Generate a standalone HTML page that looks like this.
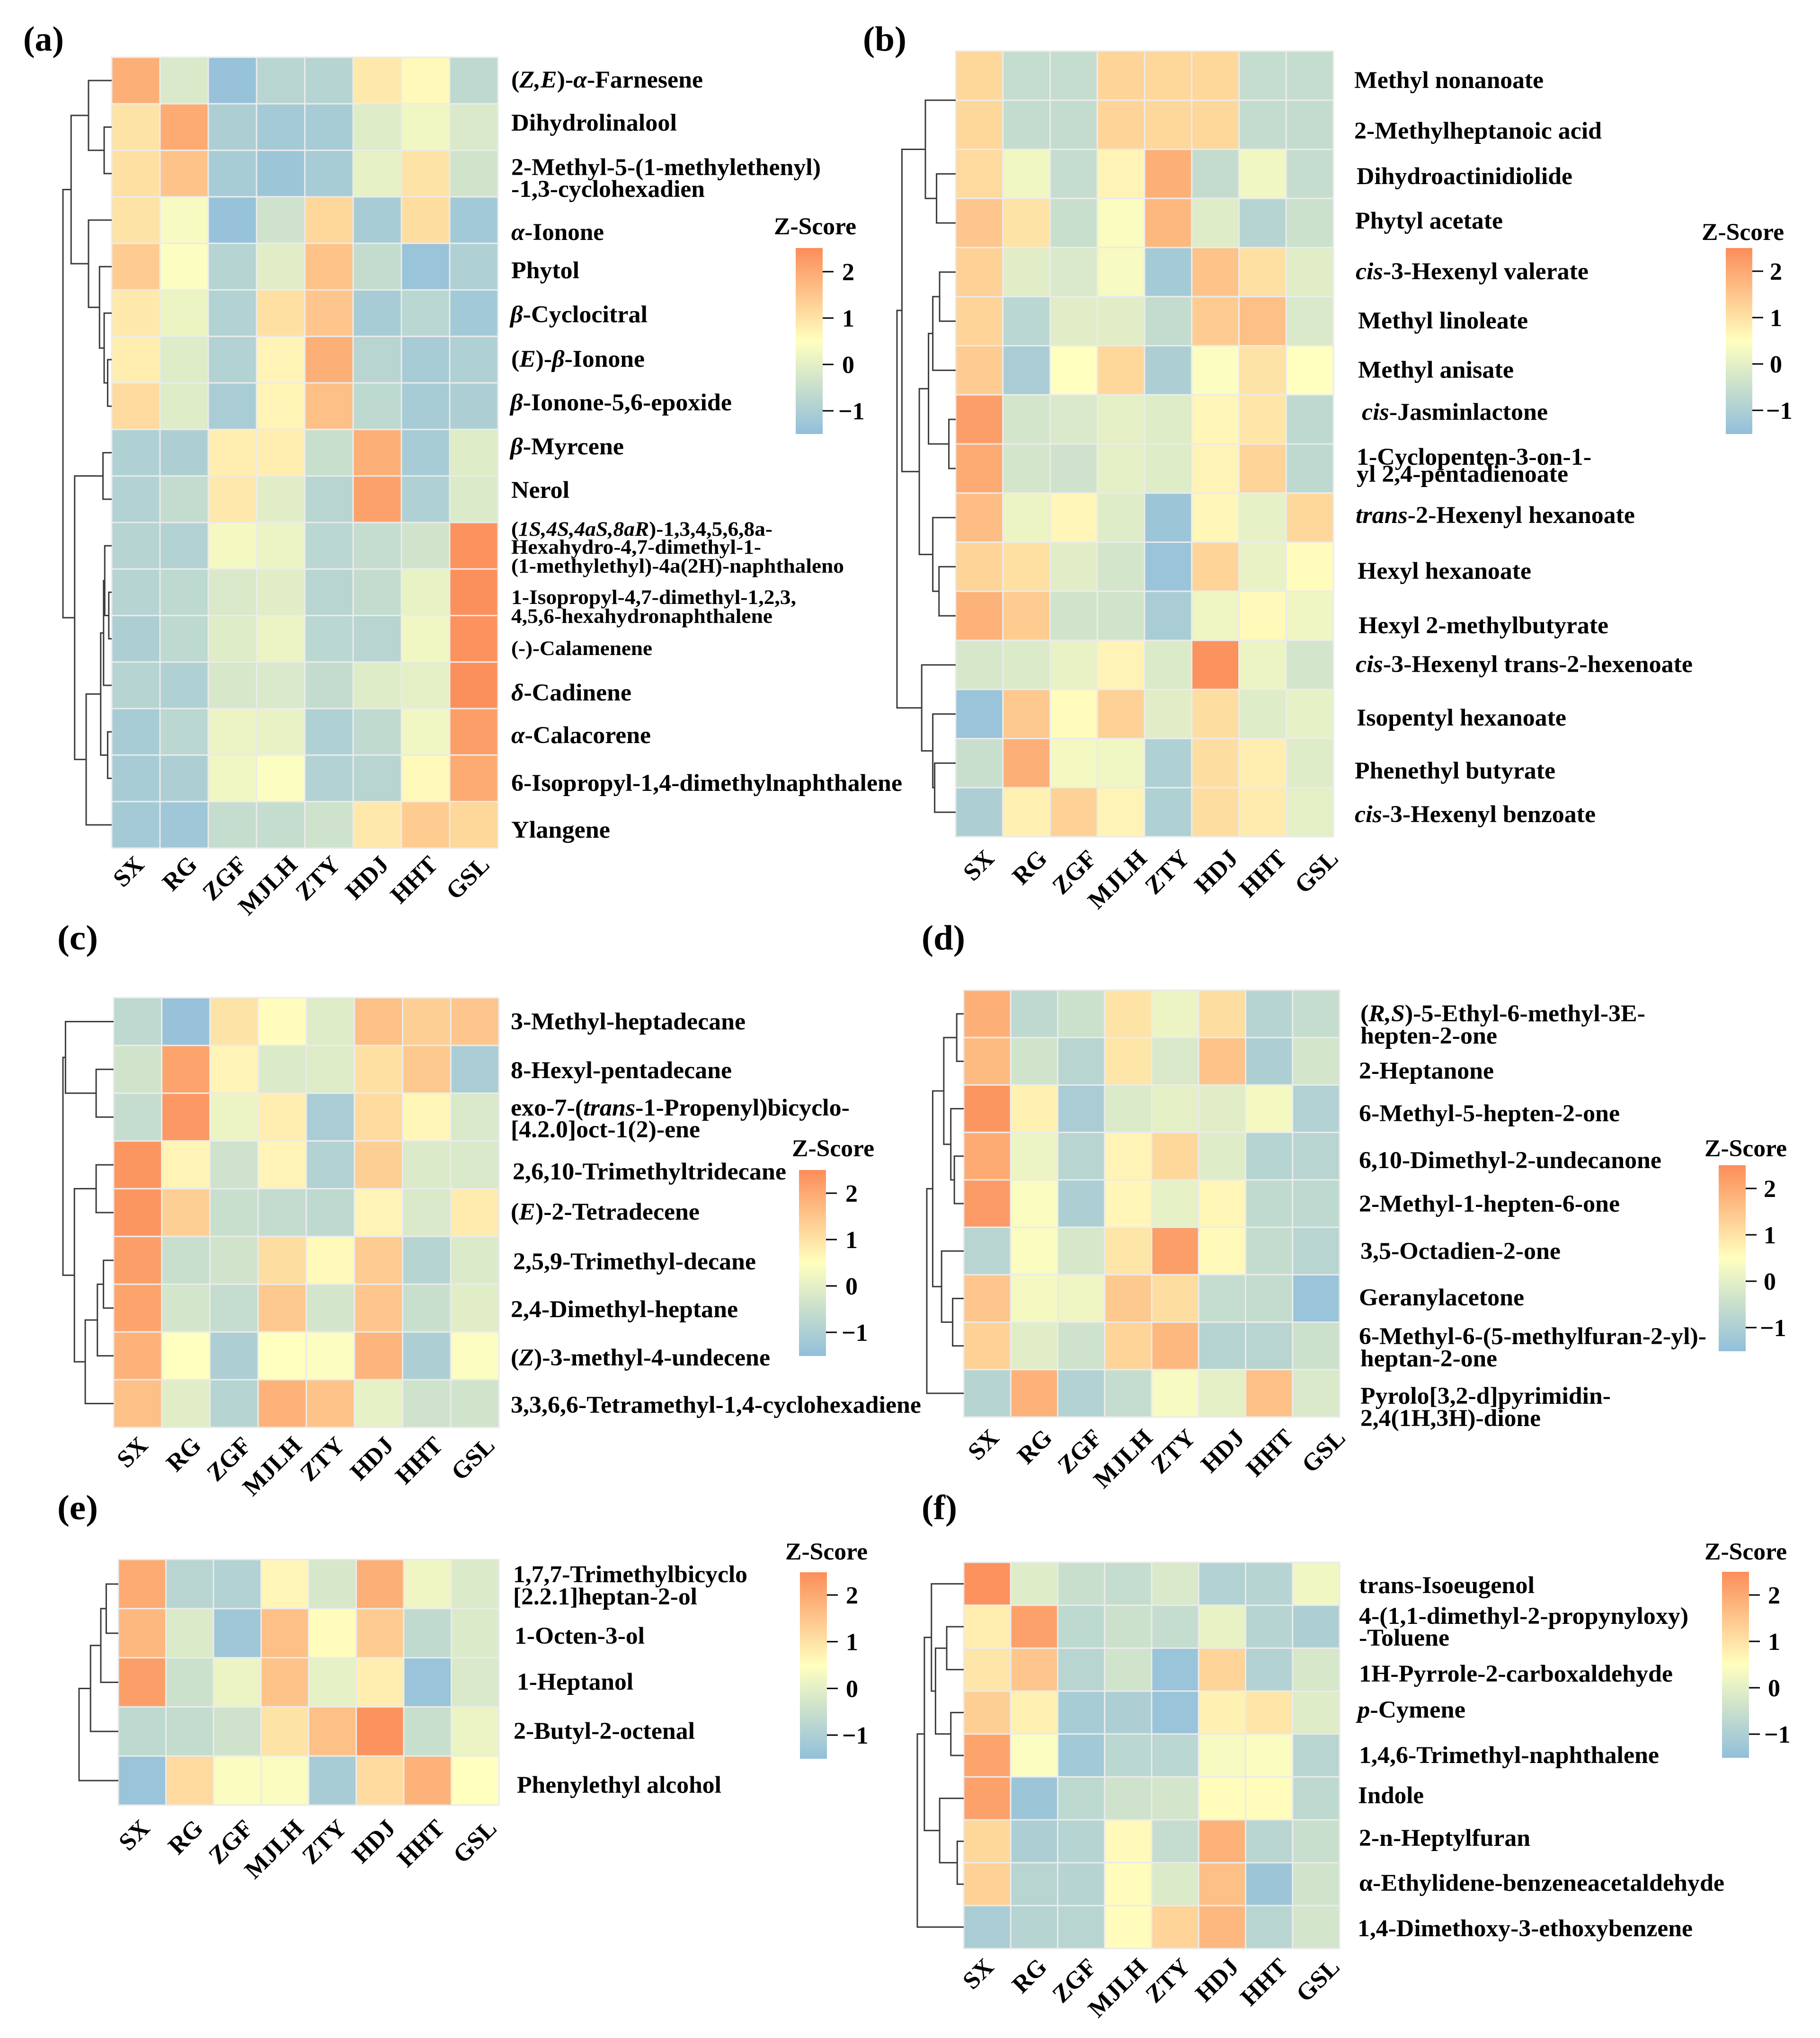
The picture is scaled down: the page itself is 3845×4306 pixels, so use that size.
<!DOCTYPE html>
<html lang="en">
<head>
<meta charset="utf-8">
<title>Z-Score heatmaps of volatile compounds</title>
<style>
html,body{margin:0;padding:0;background:#fff;}
svg{display:block;}
text{font-family:"Liberation Serif","Noto Serif CJK SC",serif;font-weight:bold;fill:#000;}
.r{font-size:51px;}
.s{font-size:43px;}
.p{font-size:74px;}
.i{font-style:italic;}
</style>
</head>
<body>
<svg id="figure" xmlns="http://www.w3.org/2000/svg" width="3845" height="4306" viewBox="0 0 3845 4306">
<defs>
<linearGradient id="zscoreRamp" x1="0" y1="0" x2="0" y2="1">
<stop offset="0" stop-color="#FC8D59"/>
<stop offset="0.5" stop-color="#FFFFBF"/>
<stop offset="1" stop-color="#91BFDB"/>
</linearGradient>
</defs>
<rect width="3845" height="4306" fill="#fff"/>

<text class="p" x="49" y="107" textLength="86" lengthAdjust="spacingAndGlyphs">(a)</text>
<text class="p" x="1823" y="107" textLength="92" lengthAdjust="spacingAndGlyphs">(b)</text>
<text class="p" x="121" y="2006" textLength="86" lengthAdjust="spacingAndGlyphs">(c)</text>
<text class="p" x="1947" y="2006" textLength="92" lengthAdjust="spacingAndGlyphs">(d)</text>
<text class="p" x="121" y="3210" textLength="86" lengthAdjust="spacingAndGlyphs">(e)</text>
<text class="p" x="1947" y="3210" textLength="75" lengthAdjust="spacingAndGlyphs">(f)</text>

<g id="labels-a">
<text class="r" x="1080" y="185" textLength="405" lengthAdjust="spacingAndGlyphs">(<tspan class="i">Z,E</tspan>)-<tspan class="i">α</tspan>-Farnesene</text>
<text class="r" x="1080" y="276" textLength="350" lengthAdjust="spacingAndGlyphs">Dihydrolinalool</text>
<text class="r" x="1080" y="370" textLength="654" lengthAdjust="spacingAndGlyphs">2-Methyl-5-(1-methylethenyl)</text>
<text class="r" x="1080" y="416" textLength="409" lengthAdjust="spacingAndGlyphs">-1,3-cyclohexadien</text>
<text class="r" x="1080" y="507" textLength="196" lengthAdjust="spacingAndGlyphs"><tspan class="i">α</tspan>-Ionone</text>
<text class="r" x="1080" y="588" textLength="144" lengthAdjust="spacingAndGlyphs">Phytol</text>
<text class="r" x="1078" y="681" textLength="290" lengthAdjust="spacingAndGlyphs"><tspan class="i">β</tspan>-Cyclocitral</text>
<text class="r" x="1080" y="775" textLength="282" lengthAdjust="spacingAndGlyphs">(<tspan class="i">E</tspan>)-<tspan class="i">β</tspan>-Ionone</text>
<text class="r" x="1078" y="867" textLength="468" lengthAdjust="spacingAndGlyphs"><tspan class="i">β</tspan>-Ionone-5,6-epoxide</text>
<text class="r" x="1078" y="960" textLength="240" lengthAdjust="spacingAndGlyphs"><tspan class="i">β</tspan>-Myrcene</text>
<text class="r" x="1080" y="1052" textLength="123" lengthAdjust="spacingAndGlyphs">Nerol</text>
<text class="s" x="1080" y="1132" textLength="552" lengthAdjust="spacingAndGlyphs">(<tspan class="i">1S,4S,4aS,8aR</tspan>)-1,3,4,5,6,8a-</text>
<text class="s" x="1080" y="1170" textLength="528" lengthAdjust="spacingAndGlyphs">Hexahydro-4,7-dimethyl-1-</text>
<text class="s" x="1080" y="1210" textLength="703" lengthAdjust="spacingAndGlyphs">(1-methylethyl)-4a(2H)-naphthaleno</text>
<text class="s" x="1080" y="1276" textLength="602" lengthAdjust="spacingAndGlyphs">1-Isopropyl-4,7-dimethyl-1,2,3,</text>
<text class="s" x="1080" y="1316" textLength="552" lengthAdjust="spacingAndGlyphs">4,5,6-hexahydronaphthalene</text>
<text class="s" x="1080" y="1384" textLength="298" lengthAdjust="spacingAndGlyphs">(-)-Calamenene</text>
<text class="r" x="1080" y="1480" textLength="254" lengthAdjust="spacingAndGlyphs"><tspan class="i">δ</tspan>-Cadinene</text>
<text class="r" x="1080" y="1570" textLength="295" lengthAdjust="spacingAndGlyphs"><tspan class="i">α</tspan>-Calacorene</text>
<text class="r" x="1080" y="1671" textLength="826" lengthAdjust="spacingAndGlyphs">6-Isopropyl-1,4-dimethylnaphthalene</text>
<text class="r" x="1080" y="1770" textLength="209" lengthAdjust="spacingAndGlyphs">Ylangene</text>
</g>

<g id="labels-b">
<text class="r" x="2861" y="186" textLength="400" lengthAdjust="spacingAndGlyphs">Methyl nonanoate</text>
<text class="r" x="2861" y="293" textLength="523" lengthAdjust="spacingAndGlyphs">2-Methylheptanoic acid</text>
<text class="r" x="2866" y="389" textLength="456" lengthAdjust="spacingAndGlyphs">Dihydroactinidiolide</text>
<text class="r" x="2863" y="483" textLength="312" lengthAdjust="spacingAndGlyphs">Phytyl acetate</text>
<text class="r" x="2864" y="590" textLength="492" lengthAdjust="spacingAndGlyphs"><tspan class="i">cis</tspan>-3-Hexenyl valerate</text>
<text class="r" x="2869" y="694" textLength="359" lengthAdjust="spacingAndGlyphs">Methyl linoleate</text>
<text class="r" x="2869" y="798" textLength="329" lengthAdjust="spacingAndGlyphs">Methyl anisate</text>
<text class="r" x="2877" y="887" textLength="393" lengthAdjust="spacingAndGlyphs"><tspan class="i">cis</tspan>-Jasminlactone</text>
<text class="r" x="2866" y="982" textLength="496" lengthAdjust="spacingAndGlyphs">1-Cyclopenten-3-on-1-</text>
<text class="r" x="2866" y="1018" textLength="447" lengthAdjust="spacingAndGlyphs">yl 2,4-pentadienoate</text>
<text class="r" x="2864" y="1105" textLength="590" lengthAdjust="spacingAndGlyphs"><tspan class="i">trans</tspan>-2-Hexenyl hexanoate</text>
<text class="r" x="2868" y="1223" textLength="367" lengthAdjust="spacingAndGlyphs">Hexyl hexanoate</text>
<text class="r" x="2870" y="1338" textLength="528" lengthAdjust="spacingAndGlyphs">Hexyl 2-methylbutyrate</text>
<text class="r" x="2864" y="1420" textLength="712" lengthAdjust="spacingAndGlyphs"><tspan class="i">cis</tspan>-3-Hexenyl trans-2-hexenoate</text>
<text class="r" x="2866" y="1533" textLength="443" lengthAdjust="spacingAndGlyphs">Isopentyl hexanoate</text>
<text class="r" x="2862" y="1645" textLength="424" lengthAdjust="spacingAndGlyphs">Phenethyl butyrate</text>
<text class="r" x="2862" y="1737" textLength="509" lengthAdjust="spacingAndGlyphs"><tspan class="i">cis</tspan>-3-Hexenyl benzoate</text>
</g>

<g id="labels-c">
<text class="r" x="1079" y="2175" textLength="496" lengthAdjust="spacingAndGlyphs">3-Methyl-heptadecane</text>
<text class="r" x="1079" y="2278" textLength="467" lengthAdjust="spacingAndGlyphs">8-Hexyl-pentadecane</text>
<text class="r" x="1079" y="2357" textLength="716" lengthAdjust="spacingAndGlyphs">exo-7-(<tspan class="i">trans</tspan>-1-Propenyl)bicyclo-</text>
<text class="r" x="1079" y="2403" textLength="400" lengthAdjust="spacingAndGlyphs">[4.2.0]oct-1(2)-ene</text>
<text class="r" x="1083" y="2492" textLength="578" lengthAdjust="spacingAndGlyphs">2,6,10-Trimethyltridecane</text>
<text class="r" x="1079" y="2577" textLength="399" lengthAdjust="spacingAndGlyphs">(<tspan class="i">E</tspan>)-2-Tetradecene</text>
<text class="r" x="1084" y="2682" textLength="513" lengthAdjust="spacingAndGlyphs">2,5,9-Trimethyl-decane</text>
<text class="r" x="1079" y="2783" textLength="480" lengthAdjust="spacingAndGlyphs">2,4-Dimethyl-heptane</text>
<text class="r" x="1079" y="2885" textLength="548" lengthAdjust="spacingAndGlyphs">(<tspan class="i">Z</tspan>)-3-methyl-4-undecene</text>
<text class="r" x="1079" y="2985" textLength="867" lengthAdjust="spacingAndGlyphs">3,3,6,6-Tetramethyl-1,4-cyclohexadiene</text>
</g>

<g id="labels-d">
<text class="r" x="2874" y="2158" textLength="602" lengthAdjust="spacingAndGlyphs">(<tspan class="i">R,S</tspan>)-5-Ethyl-6-methyl-3E-</text>
<text class="r" x="2874" y="2205" textLength="289" lengthAdjust="spacingAndGlyphs">hepten-2-one</text>
<text class="r" x="2871" y="2279" textLength="285" lengthAdjust="spacingAndGlyphs">2-Heptanone</text>
<text class="r" x="2871" y="2369" textLength="551" lengthAdjust="spacingAndGlyphs">6-Methyl-5-hepten-2-one</text>
<text class="r" x="2871" y="2468" textLength="639" lengthAdjust="spacingAndGlyphs">6,10-Dimethyl-2-undecanone</text>
<text class="r" x="2871" y="2560" textLength="551" lengthAdjust="spacingAndGlyphs">2-Methyl-1-hepten-6-one</text>
<text class="r" x="2874" y="2660" textLength="423" lengthAdjust="spacingAndGlyphs">3,5-Octadien-2-one</text>
<text class="r" x="2871" y="2758" textLength="349" lengthAdjust="spacingAndGlyphs">Geranylacetone</text>
<text class="r" x="2871" y="2840" textLength="734" lengthAdjust="spacingAndGlyphs">6-Methyl-6-(5-methylfuran-2-yl)-</text>
<text class="r" x="2874" y="2887" textLength="289" lengthAdjust="spacingAndGlyphs">heptan-2-one</text>
<text class="r" x="2874" y="2966" textLength="529" lengthAdjust="spacingAndGlyphs">Pyrolo[3,2-d]pyrimidin-</text>
<text class="r" x="2874" y="3013" textLength="381" lengthAdjust="spacingAndGlyphs">2,4(1H,3H)-dione</text>
</g>

<g id="labels-e">
<text class="r" x="1084" y="3343" textLength="495" lengthAdjust="spacingAndGlyphs">1,7,7-Trimethylbicyclo</text>
<text class="r" x="1084" y="3390" textLength="389" lengthAdjust="spacingAndGlyphs">[2.2.1]heptan-2-ol</text>
<text class="r" x="1087" y="3473" textLength="275" lengthAdjust="spacingAndGlyphs">1-Octen-3-ol</text>
<text class="r" x="1092" y="3570" textLength="246" lengthAdjust="spacingAndGlyphs">1-Heptanol</text>
<text class="r" x="1085" y="3674" textLength="383" lengthAdjust="spacingAndGlyphs">2-Butyl-2-octenal</text>
<text class="r" x="1092" y="3788" textLength="432" lengthAdjust="spacingAndGlyphs">Phenylethyl alcohol</text>
</g>

<g id="labels-f">
<text class="r" x="2871" y="3366" textLength="371" lengthAdjust="spacingAndGlyphs">trans-Isoeugenol</text>
<text class="r" x="2871" y="3431" textLength="696" lengthAdjust="spacingAndGlyphs">4-(1,1-dimethyl-2-propynyloxy)</text>
<text class="r" x="2871" y="3477" textLength="191" lengthAdjust="spacingAndGlyphs">-Toluene</text>
<text class="r" x="2871" y="3553" textLength="663" lengthAdjust="spacingAndGlyphs">1H-Pyrrole-2-carboxaldehyde</text>
<text class="r" x="2868" y="3629" textLength="228" lengthAdjust="spacingAndGlyphs"><tspan class="i">p</tspan>-Cymene</text>
<text class="r" x="2871" y="3725" textLength="634" lengthAdjust="spacingAndGlyphs">1,4,6-Trimethyl-naphthalene</text>
<text class="r" x="2869" y="3810" textLength="139" lengthAdjust="spacingAndGlyphs">Indole</text>
<text class="r" x="2871" y="3900" textLength="362" lengthAdjust="spacingAndGlyphs">2-n-Heptylfuran</text>
<text class="r" x="2871" y="3995" textLength="772" lengthAdjust="spacingAndGlyphs">α-Ethylidene-benzeneacetaldehyde</text>
<text class="r" x="2868" y="4091" textLength="708" lengthAdjust="spacingAndGlyphs">1,4-Dimethoxy-3-ethoxybenzene</text>
</g>
</svg>

<script>
// ---- data ----
const sampleNames = ["SX","RG","ZGF","MJLH","ZTY","HDJ","HHT","GSL"];
const colorTicks = [2,1,0,-1];
const colorDomain = [-1.5,2.5];

const valuesA = [
[1.9,-0.2,-1.4,-0.8,-0.85,0.9,0.6,-0.7],
[1.0,2.0,-1.0,-1.15,-1.1,-0.1,0.25,-0.2],
[1.05,1.55,-1.1,-1.3,-1.1,0.05,1.0,-0.35],
[1.0,0.35,-1.4,-0.4,1.2,-1.1,1.1,-1.2],
[1.4,0.45,-0.85,-0.05,1.55,-0.6,-1.35,-0.95],
[0.9,0.15,-0.9,1.05,1.5,-1.1,-0.75,-1.2],
[0.8,-0.1,-0.9,0.7,1.9,-0.8,-1.1,-0.95],
[1.15,-0.1,-1.05,0.7,1.6,-0.7,-1.1,-1.0],
[-0.95,-1.0,0.8,0.8,-0.5,1.9,-1.1,-0.1],
[-0.9,-0.6,0.9,-0.05,-0.8,2.15,-0.95,-0.15],
[-0.85,-0.9,0.3,0.15,-0.75,-0.55,-0.35,2.4],
[-0.85,-0.7,-0.2,-0.05,-0.8,-0.6,0.1,2.45],
[-1.0,-0.7,-0.1,0.15,-0.75,-0.8,0.25,2.4],
[-0.85,-0.95,-0.25,-0.2,-0.6,-0.1,0.0,2.45],
[-1.1,-0.75,0.15,0.1,-0.95,-0.65,0.25,2.2],
[-1.1,-1.0,0.25,0.45,-0.9,-0.8,0.6,2.0],
[-1.15,-1.25,-0.55,-0.55,-0.4,0.9,1.4,1.2]
];
const valuesB = [
[1.2,-0.55,-0.55,1.25,1.2,1.2,-0.55,-0.55],
[1.2,-0.6,-0.6,1.25,1.2,1.2,-0.6,-0.6],
[1.15,0.25,-0.55,0.7,1.9,-0.6,0.25,-0.55],
[1.5,1.0,-0.5,0.4,1.75,-0.1,-0.85,-0.45],
[1.3,-0.05,-0.2,0.35,-1.15,1.55,1.05,-0.05],
[1.25,-0.75,-0.05,-0.05,-0.6,1.4,1.6,-0.2],
[1.4,-1.05,0.5,1.2,-1.0,0.45,1.0,0.5],
[2.2,-0.3,-0.2,0,-0.1,0.65,0.95,-0.7],
[2.0,-0.3,-0.4,0,-0.1,0.7,1.25,-0.7],
[1.65,0.15,0.65,-0.1,-1.3,0.65,0.05,1.2],
[1.25,1.05,-0.05,-0.3,-1.35,1.25,0.1,0.55],
[1.85,1.4,-0.35,-0.35,-1.05,0.2,0.6,0.2],
[-0.25,-0.15,0.1,0.7,-0.15,2.4,0.15,-0.3],
[-1.35,1.45,0.55,1.3,-0.05,1.1,-0.1,0.05],
[-0.5,1.9,0.3,0.25,-0.95,1.1,0.8,-0.1],
[-1.0,0.75,1.3,0.7,-0.95,1.1,0.85,0.0]
];
const valuesC = [
[-0.7,-1.4,1.0,0.55,-0.1,1.6,1.35,1.5],
[-0.35,2.1,0.7,-0.15,-0.1,1.05,1.45,-1.05],
[-0.55,2.3,0.15,0.8,-1.05,1.15,0.65,-0.2],
[2.35,0.7,-0.4,0.7,-0.9,1.35,-0.15,-0.2],
[2.35,1.35,-0.5,-0.6,-0.7,0.7,-0.2,0.85],
[2.2,-0.5,-0.35,1.1,0.6,1.4,-0.85,-0.15],
[2.1,-0.3,-0.55,1.45,-0.3,1.5,-0.5,-0.05],
[1.85,0.5,-1.0,0.5,0.45,1.8,-1.0,0.45],
[1.6,-0.05,-0.85,1.85,1.55,0.05,-0.4,-0.35]
];
const valuesD = [
[1.9,-0.7,-0.45,1.0,0.15,1.1,-0.85,-0.55],
[1.7,-0.35,-0.8,0.95,-0.2,1.55,-1.0,-0.3],
[2.35,0.75,-1.05,-0.15,0,-0.05,0.3,-0.9],
[2.0,0.15,-0.8,0.7,1.2,-0.1,-0.85,-0.8],
[2.25,0.4,-1.0,0.65,0.05,0.65,-0.65,-0.7],
[-0.8,0.4,-0.25,0.95,2.2,0.6,-0.6,-0.8],
[1.5,0.3,0.2,1.45,1.1,-0.55,-0.6,-1.35],
[1.3,-0.05,-0.4,1.25,1.75,-0.85,-0.8,-0.45],
[-0.85,1.85,-0.9,-0.55,0.35,0,1.6,-0.2]
];
const valuesE = [
[2.0,-0.8,-0.9,0.65,-0.25,1.9,0.2,-0.15],
[1.75,-0.15,-1.25,1.6,0.55,1.4,-0.65,-0.15],
[2.2,-0.45,0.15,1.55,0.05,0.8,-1.35,-0.2],
[-0.7,-0.6,-0.4,1.0,1.6,2.4,-0.5,0.15],
[-1.35,1.15,0.4,0.4,-1.1,1.15,1.85,0.5]
];
const valuesF = [
[2.4,-0.1,-0.5,-0.55,-0.2,-0.9,-0.85,0.25],
[0.8,2.15,-0.7,-0.45,-0.55,0.1,-0.85,-1.0],
[0.95,1.5,-0.8,-0.35,-1.35,1.25,-0.9,-0.25],
[1.35,0.75,-1.1,-1.0,-1.35,0.75,0.95,-0.1],
[2.1,0.45,-1.2,-0.75,-0.75,0.35,0.4,-0.8],
[2.15,-1.3,-0.7,-0.4,-0.3,0.55,0.55,-0.7],
[1.2,-1.0,-0.85,0.6,-0.55,1.85,-0.8,-0.5],
[1.3,-0.8,-0.85,0.55,-0.15,1.6,-1.3,-0.35],
[-1.05,-0.85,-0.8,0.55,1.25,1.75,-0.8,-0.3]
];

// Dendrogram merges, hclust convention: negative = row (1-based), positive = earlier merge; third = merge height (root = 100).
const mergesA = [[-2,-3,15.5],[-1,1,47.6],[-7,-8,8.3],[-6,3,15.5],[-5,4,25],[-4,5,47.6],[2,6,83.3],[-9,-10,17.9],[-12,-13,6],[-11,9,14.3],[10,-14,16.7],[-15,-16,8.3],[11,12,22.6],[13,-17,52.4],[8,14,76],[7,15,100]];
const mergesB = [[-1,-2,0],[-3,-4,32.6],[1,2,51.6],[-5,-6,27.4],[4,-7,39],[-8,-9,11.6],[5,6,46.3],[-11,-12,28.4],[-10,8,39],[7,9,62],[3,10,91.6],[-15,-16,35.8],[-14,12,39],[-13,13,57.9],[11,14,100]];
const mergesC = [[-2,-3,34.5],[-1,1,95],[-4,-5,34.5],[-6,-7,20],[4,-8,32],[5,-9,56],[3,6,77.4],[2,7,100]];
const mergesD = [[-1,-2,19],[-4,-5,25.4],[-3,2,35],[1,3,54],[-7,-8,30],[-6,5,60],[4,6,84],[7,-9,100]];
const mergesE = [[-1,-2,30.8],[1,-3,44.6],[2,-4,70.8],[3,-5,100]];
const mergesF = [[-2,-3,36.7],[-4,-5,27.8],[1,2,60.8],[-1,3,69.6],[-7,-8,14],[-6,5,51.9],[4,6,84.8],[7,-9,100]];

// ---- layout (not data) ----
const columnLabelNudge = {0:0,1:8,2:9,3:11,4:-3,5:-4,6:-5,7:0};
const panels = [
 {id:"a",values:valuesA,merges:mergesA,left:236,right:1052,top:121,bottom:1792,treeW:103,
  barL:1681,barR:1738,barT:524,barB:917,t2:574,tN:868,labX:1779,titleX:1635,titleY:495,tickA:307,tickB:1037,tickY:1830},
 {id:"b",values:valuesB,merges:mergesB,left:2019,right:2817,top:108,bottom:1768,treeW:124,
  barL:3646,barR:3702,barT:524,barB:917,t2:573,tN:867,labX:3739,titleX:3595,titleY:507,tickA:2103,tickB:2830,tickY:1817},
 {id:"c",values:valuesC,merges:mergesC,left:240,right:1054,top:2108,bottom:3016,treeW:107,
  barL:1688,barR:1745,barT:2472,barB:2865,t2:2521,tN:2815,labX:1786,titleX:1673,titleY:2443,tickA:315,tickB:1048,tickY:3057},
 {id:"d",values:valuesD,merges:mergesD,left:2036,right:2830,top:2092,bottom:2994,treeW:78,
  barL:3631,barR:3688,barT:2462,barB:2855,t2:2511,tN:2805,labX:3726,titleX:3601,titleY:2443,tickA:2113,tickB:2845,tickY:3041},
 {id:"e",values:valuesE,merges:mergesE,left:250,right:1054,top:3295,bottom:3814,treeW:83,
  barL:1690,barR:1747,barT:3322,barB:3716,t2:3370,tN:3666,labX:1787,titleX:1659,titleY:3295,tickA:319,tickB:1052,tickY:3866},
 {id:"f",values:valuesF,merges:mergesF,left:2036,right:2830,top:3301,bottom:4117,treeW:98,
  barL:3638,barR:3695,barT:3321,barB:3714,t2:3370,tN:3664,labX:3735,titleX:3601,titleY:3295,tickA:2102,tickB:2833,tickY:4159}
];

const SVG_NS = "http://www.w3.org/2000/svg";
const figure = document.getElementById("figure");

function mix(a,b,t){return Math.round(a+(b-a)*t);}
function colorFor(v){
  const t=Math.max(0,Math.min(1,(v-colorDomain[0])/(colorDomain[1]-colorDomain[0])));
  const blue=[145,191,219],yellow=[255,255,191],orange=[252,141,89];
  const from=t<0.5?blue:yellow,to=t<0.5?yellow:orange,u=t<0.5?t*2:(t-0.5)*2;
  return "rgb("+mix(from[0],to[0],u)+","+mix(from[1],to[1],u)+","+mix(from[2],to[2],u)+")";
}

function drawHeatmap(p,group){
  const rows=p.values.length,cols=sampleNames.length;
  const cw=(p.right-p.left)/cols,rh=(p.bottom-p.top)/rows;
  p.values.forEach(function(row,r){
    row.forEach(function(v,c){
      const cell=document.createElementNS(SVG_NS,"rect");
      
      
      cell.setAttribute("x",p.left+c*cw);
      cell.setAttribute("y",p.top+r*rh);
      cell.setAttribute("width",cw);
      cell.setAttribute("height",rh);
      cell.setAttribute("fill",colorFor(v));
      cell.setAttribute("stroke","#ebebeb");
      cell.setAttribute("stroke-width","3");
      group.appendChild(cell);
    });
  });
}

function drawTree(p,group){
  const rh=(p.bottom-p.top)/p.values.length;
  const hx=function(h){return p.left-h/100*p.treeW;};
  const nodes=[];
  const pos=function(id){
    if(id<0){return {x:p.left,y:p.top+(-id-0.5)*rh};}
    return nodes[id-1];
  };
  p.merges.forEach(function(m){
    const a=pos(m[0]),b=pos(m[1]),x=hx(m[2]);
    if(m[2]>0){
      const link=document.createElementNS(SVG_NS,"path");
      
      
      link.setAttribute("d","M"+a.x+" "+a.y+"H"+x+"V"+b.y+"H"+b.x);
      link.setAttribute("fill","none");
      link.setAttribute("stroke","#3c3c3c");
      link.setAttribute("stroke-width","3");
      group.appendChild(link);
    }
    nodes.push({x:x,y:(a.y+b.y)/2});
  });
}

function drawColumnLabels(p,group){
  const step=(p.tickB-p.tickA)/(sampleNames.length-1);
  sampleNames.forEach(function(name,i){
    const x=p.tickA+i*step+columnLabelNudge[i];
    const label=document.createElementNS(SVG_NS,"text");
    
    
    label.setAttribute("x",x);
    label.setAttribute("y",p.tickY);
    label.setAttribute("text-anchor","end");
    label.setAttribute("font-size","52");
    label.setAttribute("transform","rotate(-45 "+x+" "+p.tickY+")");
    label.textContent=name;
    group.appendChild(label);
  });
}

function drawColorbar(p,group){
  const bar=document.createElementNS(SVG_NS,"rect");
  
  
  bar.setAttribute("x",p.barL);
  bar.setAttribute("y",p.barT);
  bar.setAttribute("width",p.barR-p.barL);
  bar.setAttribute("height",p.barB-p.barT);
  bar.setAttribute("fill","url(#zscoreRamp)");
  group.appendChild(bar);

  const title=document.createElementNS(SVG_NS,"text");
  
  
  title.setAttribute("x",p.titleX);
  title.setAttribute("y",p.titleY);
  title.setAttribute("font-size","51");
  title.setAttribute("textLength","174");
  title.setAttribute("lengthAdjust","spacingAndGlyphs");
  title.textContent="Z-Score";
  group.appendChild(title);

  const unit=(p.tN-p.t2)/3;
  colorTicks.forEach(function(v){
    const y=p.t2+(2-v)*unit;
    const tick=document.createElementNS(SVG_NS,"line");
    
    
    tick.setAttribute("x1",p.barR);
    tick.setAttribute("x2",p.barR+23);
    tick.setAttribute("y1",y);
    tick.setAttribute("y2",y);
    tick.setAttribute("stroke","#000");
    tick.setAttribute("stroke-width","3");
    group.appendChild(tick);

    const lab=document.createElementNS(SVG_NS,"text");
    
    
    lab.setAttribute("x",v<0?p.labX-8:p.labX);
    lab.setAttribute("y",y+18);
    lab.setAttribute("font-size","52");
    lab.textContent=v<0?"\u2212"+Math.abs(v):String(v);
    group.appendChild(lab);
  });
}

panels.forEach(function(p){
  const group=document.createElementNS(SVG_NS,"g");
  
  
  figure.appendChild(group);
  drawHeatmap(p,group);
  drawTree(p,group);
  drawColumnLabels(p,group);
  drawColorbar(p,group);
});
</script>
</body>
</html>
